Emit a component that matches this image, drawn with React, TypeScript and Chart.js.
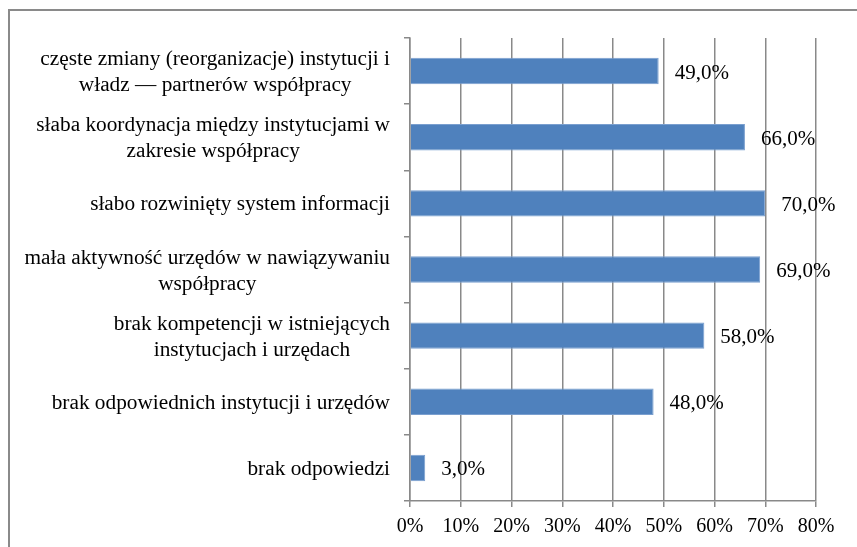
import React, { useEffect, useRef } from 'react';
import { Chart, registerables } from 'chart.js';

Chart.register(...registerables);

const FONT = '"Liberation Serif", "Times New Roman", serif';

const categories: string[][] = [
  ['częste zmiany (reorganizacje) instytucji i', 'władz — partnerów współpracy'],
  ['słaba koordynacja między instytucjami w', 'zakresie współpracy'],
  ['słabo rozwinięty system informacji'],
  ['mała aktywność urzędów w nawiązywaniu', 'współpracy'],
  ['brak kompetencji w istniejących', 'instytucjach i urzędach'],
  ['brak odpowiednich instytucji i urzędów'],
  ['brak odpowiedzi'],
];

const values: number[] = [49, 66, 70, 69, 58, 48, 3];

const xMin = 0;
const xMax = 80;
const xStep = 10;

const CAT_FONT_SIZE = 21.3;
const VAL_FONT_SIZE = 21;
const TICK_FONT_SIZE = 20;
const LINE_H = 26;

const labelPlugin = {
  id: 'customLabels',
  afterDraw(chart: any) {
    const ctx = chart.ctx as CanvasRenderingContext2D;
    const ys = chart.scales.y;
    const xs = chart.scales.x;
    const right = chart.chartArea.left - 20;
    ctx.save();
    ctx.fillStyle = '#000';
    ctx.textBaseline = 'middle';
    ctx.font = `${CAT_FONT_SIZE}px ${FONT}`;
    categories.forEach((lines, i) => {
      const cy = ys.getPixelForValue(i);
      const maxW = Math.max(...lines.map((l) => ctx.measureText(l).width));
      const cx = right - maxW / 2;
      ctx.textAlign = 'center';
      lines.forEach((l, j) => {
        ctx.fillText(l, cx, cy + (j - (lines.length - 1) / 2) * LINE_H + 1.5);
      });
    });
    ctx.font = `${VAL_FONT_SIZE}px ${FONT}`;
    ctx.textAlign = 'left';
    values.forEach((v, i) => {
      const txt = v.toFixed(1).replace('.', ',') + '%';
      ctx.fillText(txt, xs.getPixelForValue(v) + 16, ys.getPixelForValue(i) + 2);
    });
    ctx.restore();
  },
};

export default function App() {
  const ref = useRef<HTMLCanvasElement>(null);
  useEffect(() => {
    if (!ref.current) return;
    const chart = new Chart(ref.current, {
      type: 'bar',
      data: {
        labels: categories.map((c) => c.join(' ')),
        datasets: [
          {
            data: values,
            backgroundColor: '#4f81bd',
            borderColor: '#7a9fcf',
            borderWidth: 1,
            barPercentage: 0.4,
            categoryPercentage: 1,
          },
        ],
      },
      options: {
        indexAxis: 'y',
        animation: false,
        responsive: true,
        maintainAspectRatio: false,
        layout: { padding: { top: 27, right: 41, left: 0, bottom: 0 } },
        plugins: {
          legend: { display: false },
          tooltip: { enabled: false },
          title: { display: false },
        },
        scales: {
          x: {
            type: 'linear',
            min: xMin,
            max: xMax,
            afterFit: (s: any) => {
              s.height = 38;
            },
            ticks: {
              stepSize: xStep,
              callback: (v: any) => v + '%',
              font: { family: FONT, size: TICK_FONT_SIZE },
              color: '#000',
              padding: 8,
            },
            grid: {
              color: '#898989',
              lineWidth: 1.5,
              tickLength: 6,
            },
            border: { display: true, color: '#898989', width: 1.5 },
          },
          y: {
            type: 'category',
            afterFit: (s: any) => {
              s.width = 400;
            },
            ticks: { display: false },
            grid: {
              display: true,
              drawOnChartArea: false,
              drawTicks: true,
              tickLength: 6,
              offset: true,
              color: '#898989',
              lineWidth: 1.5,
            },
            border: { display: true, color: '#898989', width: 1.5 },
          },
        },
      },
      plugins: [labelPlugin],
    });
    return () => chart.destroy();
  }, []);
  return (
    <div
      style={{
        position: 'fixed',
        left: 8,
        top: 9,
        borderTop: '2px solid #8a8a8a',
        borderLeft: '2px solid #8a8a8a',
        width: 900,
        height: 600,
      }}
    >
      <div style={{ width: 847, height: 528, position: 'relative' }}>
        <canvas ref={ref} />
      </div>
    </div>
  );
}
